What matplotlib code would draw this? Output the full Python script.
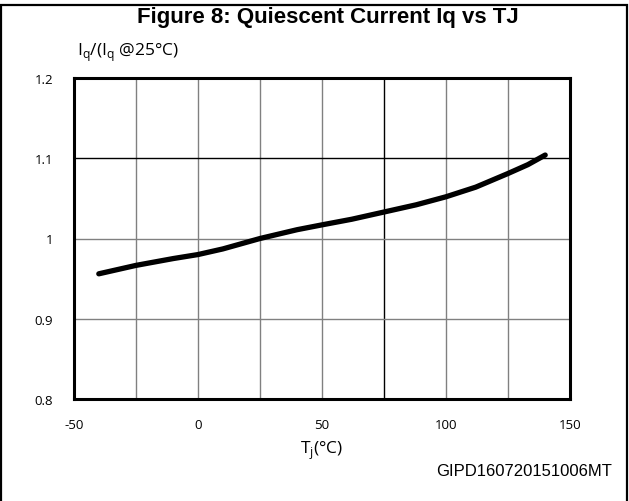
import matplotlib

matplotlib.use("Agg")
import matplotlib.pyplot as plt  # noqa: E402
from matplotlib.patches import Rectangle  # noqa: E402

plt.rcParams["axes.unicode_minus"] = False
plt.rcParams["mathtext.fontset"] = "custom"
plt.rcParams["mathtext.rm"] = "Open Sans"

# curve
tj = [-40, -25, -10, 0, 10, 25, 40, 50, 62, 75, 88, 100, 112, 125, 133, 140]
iq_ratio = [0.956, 0.9665, 0.975, 0.980, 0.987, 1.000, 1.011, 1.017, 1.024,
            1.033, 1.042, 1.052, 1.064, 1.081, 1.092, 1.104]

x_ticks = [-50, 0, 50, 100, 150]
y_ticks = [0.8, 0.9, 1.0, 1.1, 1.2]
y_tick_labels = ["0.8", "0.9", "1", "1.1", "1.2"]
x_grid = [-25, 0, 25, 50, 75, 100, 125]
y_grid = [0.9, 1.0, 1.1]

W, H = 629, 502
fig = plt.figure(figsize=(W / 100, H / 100), dpi=100)

# outer frame (left, top, right; bottom runs off the image)
fig.add_artist(Rectangle((0.8 / W, -0.02), (627 - 0.8) / W, 1 - 5.5 / H + 0.02,
                         transform=fig.transFigure, fill=False, lw=1.6, ec="black"))

ax = fig.add_axes([74 / W, 1 - 400 / H, (570 - 74) / W, (400 - 79) / H])
ax.set_xlim(-50, 150)
ax.set_ylim(0.8, 1.2)

for gx in x_grid:
    ax.axvline(gx, color="black" if gx == 75 else "#808080", lw=1.0, zorder=1)
for gy in y_grid:
    ax.axhline(gy, color="black" if gy == 1.1 else "#808080", lw=1.0, zorder=1)

ax.plot(tj, iq_ratio, color="black", lw=3.8, solid_capstyle="round", zorder=3)

for s in ax.spines.values():
    s.set_linewidth(2.2)
ax.set_xticks(x_ticks)
ax.set_yticks(y_ticks)
ax.set_yticklabels(y_tick_labels)
ax.tick_params(length=0, labelsize=9.5, pad=14)
ax.tick_params(axis="y", pad=15)
for lbl in ax.get_xticklabels() + ax.get_yticklabels():
    lbl.set_family("Open Sans")

fig.text(328 / W, 1 - 18 / H, "Figure 8: Quiescent Current Iq vs TJ", ha="center", va="center",
         fontsize=16, fontweight="bold", family="Liberation Sans")
fig.text(77 / W, 1 - 53 / H, r"I$_\mathregular{q}$/(I$_\mathregular{q}$ @25°C)", ha="left",
         va="center", fontsize=12.5, family="Open Sans")
fig.text(322 / W, 1 - 451 / H, r"T$_\mathregular{j}$(°C)", ha="center", va="center",
         fontsize=12.5, family="Open Sans")
fig.text(612 / W, 1 - 471 / H, "GIPD160720151006MT", ha="right", va="center",
         fontsize=12, family="Liberation Sans")

fig.savefig("out.png", dpi=100)
